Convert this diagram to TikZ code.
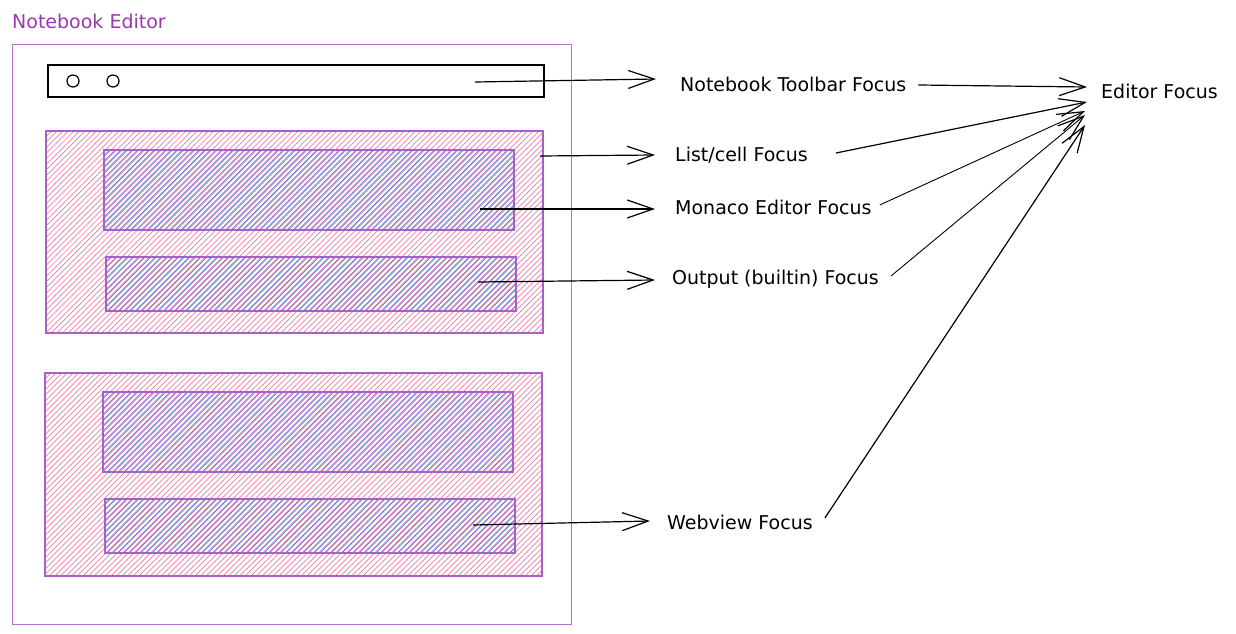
\documentclass[tikz,border=0pt]{standalone}
\usepackage{fontspec}
\setmainfont{DejaVu Sans}
\usetikzlibrary{arrows.meta}
\definecolor{frame}{HTML}{B66FD0}
\definecolor{titlec}{HTML}{9C36B5}
\definecolor{pinkh}{HTML}{EE7DA6}
\definecolor{blueh}{HTML}{5A7BDD}
\definecolor{boxb}{HTML}{A95FCB}
\tikzset{
  lbl/.style={anchor=west,inner sep=0pt,font=\fontsize{19}{22}\selectfont,text=black},
  boxline/.style={draw=boxb,line width=1.1pt},
  hatchline/.style={line width=0.7pt},
  arr/.style={draw=black,line width=1.2pt,-{Straight Barb[length=26pt,width=18pt,line width=1.2pt]}},
}
% hatch a rectangle: colour, x1, y1, x2, y2
\newcommand\myhatch[5]{%
  \begin{scope}
    \clip (#2,#3) rectangle (#4,#5);
    \pgfmathsetmacro\hh{#5-#3}
    \pgfmathsetmacro\st{#2-\hh}
    \pgfmathsetmacro\sn{\st+5.6}
    \foreach \k in {\st,\sn,...,#4} {\draw[hatchline,#1] (\k,#5) -- ++(\hh,-\hh);}
  \end{scope}}
\begin{document}
\begin{tikzpicture}[x=1pt,y=-1pt]
\useasboundingbox (0,0) rectangle (1236,634);
% title and frame
\node[anchor=west,inner sep=0pt,font=\fontsize{19}{22}\selectfont,text=titlec] (title) at (12,21) {Notebook Editor};
\draw[frame,line width=1pt] (12,45) rectangle (571,624);
% toolbar
\draw[black,line width=1.5pt] (48,65) rectangle (544,97);
\draw[black,line width=1.2pt] (73,81) circle (6);
\draw[black,line width=1.2pt] (113,81) circle (6);
% cell 1
\myhatch{pinkh}{46}{131}{543}{333}
\myhatch{blueh}{104}{150}{514}{230}
\myhatch{blueh}{106}{257}{516}{311}
\draw[boxline] (46,131) rectangle (543,333);
\draw[boxline] (104,150) rectangle (514,230);
\draw[boxline] (106,257) rectangle (516,311);
% cell 2
\myhatch{pinkh}{45}{373}{542}{576}
\myhatch{blueh}{103}{392}{513}{472}
\myhatch{blueh}{105}{499}{515}{553}
\draw[boxline] (45,373) rectangle (542,576);
\draw[boxline] (103,392) rectangle (513,472);
\draw[boxline] (105,499) rectangle (515,553);
% labels
\node[lbl] (tb) at (680,84) {Notebook Toolbar Focus};
\node[lbl] (lc) at (675,155) {List/cell Focus};
\node[lbl] (mo) at (675,207) {Monaco Editor Focus};
\node[lbl] (ou) at (672,279) {Output (builtin) Focus};
\node[lbl] (wv) at (667,522) {Webview Focus};
\node[lbl] (ef) at (1101,91) {Editor Focus};
% source points
\coordinate (tbS) at (475,82);
\coordinate (lcS) at (540,156);
\coordinate (moS) at (480,209);
\coordinate (ouS) at (478,282);
\coordinate (wvS) at (473,525);
\draw[arr] (tbS) -- ([xshift=-24pt,yshift=5pt]tb.west);
\draw[arr] (lcS) -- ([xshift=-20pt]lc.west);
\draw[arr] (moS) -- ([xshift=-20pt,yshift=-2pt]mo.west);
\draw[arr] (ouS) -- ([xshift=-17pt,yshift=-1pt]ou.west);
\draw[arr] (wvS) -- ([xshift=-17pt,yshift=1pt]wv.west);
% to editor focus
\draw[arr] ([xshift=12pt,yshift=-1pt]tb.east) -- ([xshift=-14pt,yshift=4pt]ef.west);
\draw[arr] ([xshift=28pt,yshift=2pt]lc.east) -- ([xshift=-14pt,yshift=-11pt]ef.west);
\draw[arr,line width=0.9pt] ([xshift=8pt,yshift=2pt]mo.east) -- ([xshift=-16pt,yshift=-20pt]ef.west);
\draw[arr,line width=0.9pt] ([xshift=12pt,yshift=3pt]ou.east) -- ([xshift=-16pt,yshift=-24pt]ef.west);
\draw[arr] ([xshift=12pt,yshift=4pt]wv.east) -- ([xshift=-16pt,yshift=-34pt]ef.west);
\end{tikzpicture}
\end{document}
